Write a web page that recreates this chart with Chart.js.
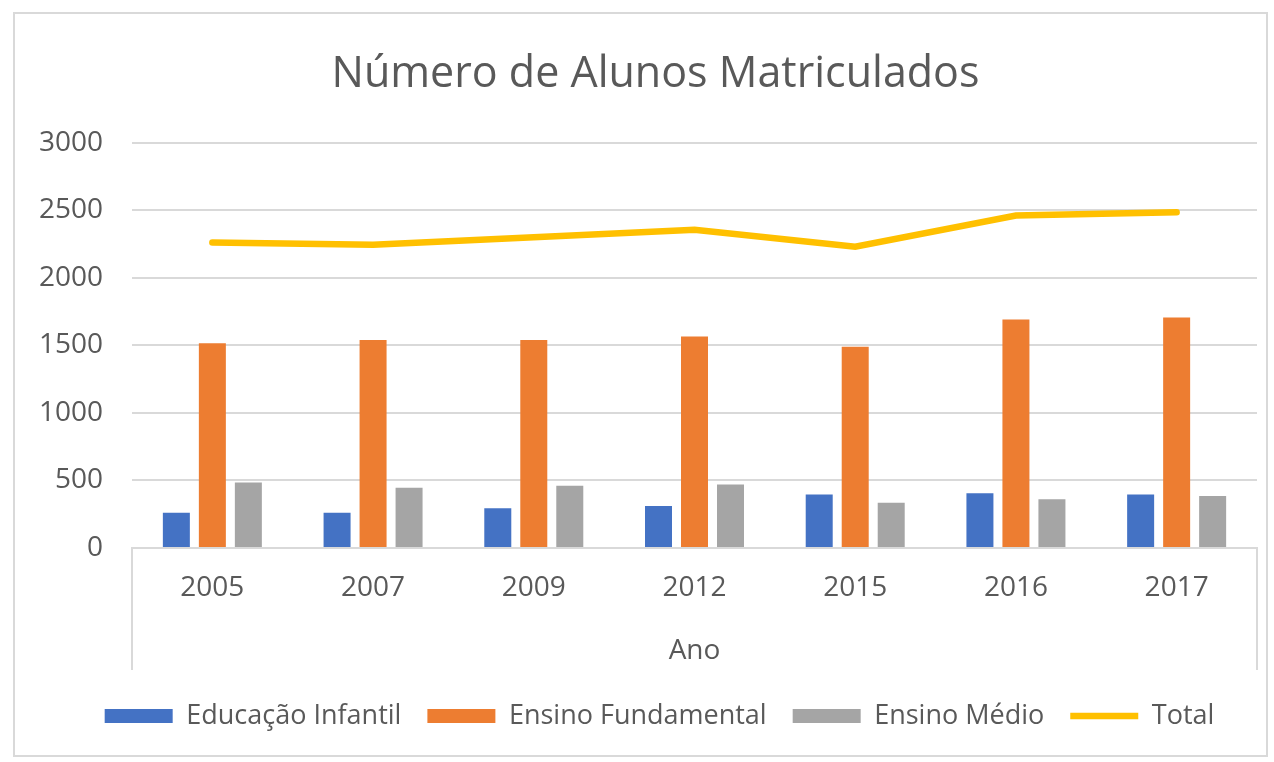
<!DOCTYPE html>
<html lang="pt-BR">
<head>
<meta charset="utf-8">
<title>Número de Alunos Matriculados</title>
<script src="https://cdn.jsdelivr.net/npm/chart.js@4.4.1/dist/chart.umd.min.js"></script>
<style>
  html, body { margin: 0; padding: 0; background: #ffffff; }
  #quadro { width: 1274px; height: 762px; }
</style>
</head>
<body>
<div id="quadro"><canvas id="grafico" width="1274" height="762"></canvas></div>
<script>
// Matrículas por ano e etapa de ensino
const anos = ['2005', '2007', '2009', '2012', '2015', '2016', '2017'];
const educacaoInfantil = [260, 260, 295, 310, 395, 405, 395];
const ensinoFundamental = [1515, 1540, 1540, 1565, 1490, 1690, 1705];
const ensinoMedio = [485, 445, 460, 470, 335, 360, 385];
const total = [2260, 2245, 2300, 2355, 2230, 2460, 2485];
const marcasY = [0, 500, 1000, 1500, 2000, 2500, 3000];

const corTexto = '#595959';
const corGrade = '#D9D9D9';
const fonte = "'Open Sans', sans-serif";

Chart.defaults.font.family = fonte;
Chart.defaults.color = corTexto;

// Moldura do gráfico, linhas laterais do eixo de categorias e ajuste de título e legenda
const moldura = {
  id: 'moldura',
  afterLayout(chart) {
    const dxLegenda = 24;
    chart.legend.left += dxLegenda;
    chart.legend.right += dxLegenda;
    const dxTitulo = 20;
    chart.titleBlock.left += dxTitulo;
    chart.titleBlock.right += dxTitulo;
  },
  beforeDraw(chart) {
    const ctx = chart.ctx;
    ctx.save();
    ctx.fillStyle = '#ffffff';
    ctx.fillRect(0, 0, chart.width, chart.height);
    ctx.strokeStyle = corGrade;
    ctx.lineWidth = 2;
    ctx.strokeRect(14, 13, chart.width - 21, chart.height - 19);
    ctx.restore();
  },
  afterDraw(chart) {
    const {ctx, chartArea} = chart;
    ctx.save();
    ctx.strokeStyle = corGrade;
    ctx.lineWidth = 2;
    ctx.beginPath();
    ctx.moveTo(chartArea.left, chartArea.bottom);
    ctx.lineTo(chartArea.left, chartArea.bottom + 122);
    ctx.moveTo(chartArea.right, chartArea.bottom);
    ctx.lineTo(chartArea.right, chartArea.bottom + 122);
    ctx.stroke();
    ctx.restore();
  }
};

new Chart(document.getElementById('grafico'), {
  type: 'bar',
  data: {
    labels: anos,
    datasets: [
      {
        label: 'Educação Infantil',
        data: educacaoInfantil,
        backgroundColor: '#4472C4',
        borderWidth: 0,
        pointStyle: 'rect',
        categoryPercentage: 0.672,
        barPercentage: 0.75
      },
      {
        label: 'Ensino Fundamental',
        data: ensinoFundamental,
        backgroundColor: '#ED7D31',
        borderWidth: 0,
        pointStyle: 'rect',
        categoryPercentage: 0.672,
        barPercentage: 0.75
      },
      {
        label: 'Ensino Médio',
        data: ensinoMedio,
        backgroundColor: '#A5A5A5',
        borderWidth: 0,
        pointStyle: 'rect',
        categoryPercentage: 0.672,
        barPercentage: 0.75
      },
      {
        type: 'line',
        label: 'Total',
        data: total,
        borderColor: '#FFC000',
        backgroundColor: '#FFC000',
        borderWidth: 6.5,
        borderCapStyle: 'round',
        borderJoinStyle: 'miter',
        pointStyle: 'line',
        pointRadius: 0,
        pointHoverRadius: 0,
        tension: 0,
        fill: false
      }
    ]
  },
  options: {
    responsive: false,
    animation: false,
    devicePixelRatio: 1,
    layout: { padding: { left: 14, right: 17, top: 0, bottom: 22.5 } },
    plugins: {
      title: {
        display: true,
        text: 'Número de Alunos Matriculados',
        color: corTexto,
        font: { size: 43, weight: 'normal', family: fonte },
        padding: { top: 48.5, bottom: 42.5 }
      },
      legend: {
        position: 'bottom',
        labels: {
          usePointStyle: true,
          pointStyleWidth: 68,
          boxHeight: 14,
          padding: 26,
          color: corTexto,
          font: { size: 27, family: fonte }
        }
      },
      tooltip: { enabled: false }
    },
    scales: {
      x: {
        grid: { display: false, drawTicks: false },
        border: { display: true, color: corGrade, width: 2 },
        ticks: { padding: 23, color: corTexto, font: { size: 28, family: fonte } },
        title: {
          display: true,
          text: 'Ano',
          color: corTexto,
          font: { size: 28, family: fonte },
          padding: { top: 0, bottom: 8.7 }
        },
        afterFit(scale) { scale.height = 128.5; }
      },
      y: {
        min: marcasY[0],
        max: marcasY[marcasY.length - 1],
        grid: { color: corGrade, lineWidth: 2, drawTicks: false },
        border: { display: false },
        ticks: {
          stepSize: marcasY[1] - marcasY[0],
          padding: 29,
          color: corTexto,
          font: { size: 28, family: fonte },
          callback: (valor) => String(valor)
        },
        afterFit(scale) { scale.width = 118; }
      }
    }
  },
  plugins: [moldura]
});
</script>
</body>
</html>
